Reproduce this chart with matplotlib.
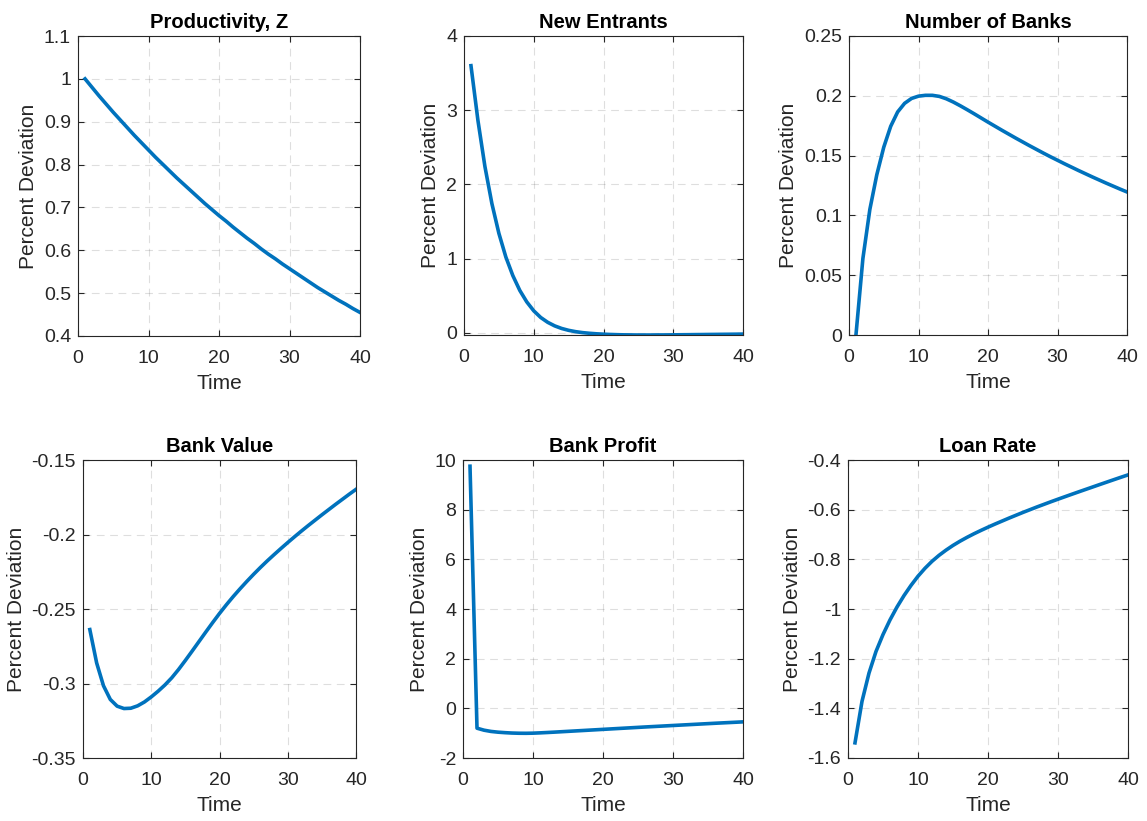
import numpy as np
import matplotlib
matplotlib.use("Agg")
import matplotlib.pyplot as plt
from matplotlib.ticker import FuncFormatter

plt.rcParams['font.family'] = ['Liberation Sans', 'DejaVu Sans']
plt.rcParams['axes.unicode_minus'] = False

time = np.arange(1, 41)

productivity = [1.000, 0.980, 0.960, 0.941, 0.922, 0.904, 0.886, 0.868, 0.851, 0.834,
                0.817, 0.801, 0.785, 0.769, 0.754, 0.739, 0.724, 0.709, 0.695, 0.681,
                0.668, 0.654, 0.641, 0.628, 0.616, 0.603, 0.591, 0.580, 0.568, 0.557,
                0.546, 0.535, 0.524, 0.513, 0.503, 0.493, 0.483, 0.474, 0.464, 0.455]

new_entrants = [3.600, 2.860, 2.240, 1.740, 1.340, 1.020, 0.770, 0.570, 0.415, 0.295,
                0.205, 0.140, 0.092, 0.057, 0.032, 0.014, 0.001, -0.008, -0.015, -0.020,
                -0.024, -0.027, -0.029, -0.030, -0.031, -0.031, -0.031, -0.030, -0.030, -0.029,
                -0.028, -0.027, -0.026, -0.025, -0.024, -0.023, -0.022, -0.021, -0.020, -0.019]

num_banks = [0.000, 0.064, 0.105, 0.134, 0.157, 0.1745, 0.1865, 0.1937, 0.1978, 0.1997,
             0.2004, 0.2004, 0.1995, 0.1975, 0.1948, 0.1917, 0.1884, 0.1850, 0.1815, 0.1780,
             0.1746, 0.1712, 0.1679, 0.1646, 0.1614, 0.1582, 0.1551, 0.1520, 0.1490, 0.1461,
             0.1432, 0.1404, 0.1376, 0.1349, 0.1322, 0.1296, 0.1270, 0.1245, 0.1220, 0.1196]

bank_value = [-0.2638, -0.2862, -0.3015, -0.3107, -0.3152, -0.3168, -0.3166, -0.3150, -0.3124, -0.3090,
              -0.3052, -0.3010, -0.2962, -0.2906, -0.2845, -0.2782, -0.2718, -0.2654, -0.2591, -0.2530,
              -0.2472, -0.2417, -0.2365, -0.2315, -0.2267, -0.2221, -0.2177, -0.2135, -0.2094, -0.2054,
              -0.2015, -0.1977, -0.1940, -0.1904, -0.1868, -0.1833, -0.1798, -0.1764, -0.1730, -0.1697]

bank_profit = [9.75, -0.80, -0.88, -0.93, -0.96, -0.98, -0.995, -1.003, -1.005, -1.000,
               -0.988, -0.974, -0.959, -0.943, -0.927, -0.911, -0.895, -0.879, -0.863, -0.847,
               -0.831, -0.815, -0.799, -0.783, -0.767, -0.751, -0.736, -0.721, -0.706, -0.691,
               -0.676, -0.661, -0.646, -0.631, -0.616, -0.601, -0.587, -0.573, -0.559, -0.545]

loan_rate = [-1.539, -1.372, -1.258, -1.171, -1.103, -1.044, -0.992, -0.946, -0.905, -0.868,
             -0.836, -0.808, -0.784, -0.763, -0.744, -0.727, -0.7115, -0.697, -0.6835, -0.6705,
             -0.658, -0.646, -0.634, -0.6225, -0.611, -0.600, -0.589, -0.5785, -0.568, -0.5578,
             -0.5477, -0.5377, -0.5278, -0.518, -0.5082, -0.4984, -0.4887, -0.479, -0.4694, -0.460]

titles = ['Productivity, Z', 'New Entrants', 'Number of Banks',
          'Bank Value', 'Bank Profit', 'Loan Rate']
series = [productivity, new_entrants, num_banks, bank_value, bank_profit, loan_rate]
ylims = [(0.4, 1.1), (min(new_entrants), 4), (0, 0.25),
         (-0.35, -0.15), (-2, 10), (-1.6, -0.4)]
yticks = [np.arange(0.4, 1.11, 0.1), np.arange(0, 4.1, 1), np.arange(0, 0.26, 0.05),
          np.arange(-0.35, -0.149, 0.05), np.arange(-2, 10.1, 2), np.arange(-1.6, -0.39, 0.2)]

W, H = 1147, 821
# axes boxes in pixels: left, right, top, bottom
boxes = [(78, 360, 36, 336), (464, 743, 36, 335), (849, 1127, 36, 335),
         (83, 356, 460, 758), (463, 743, 460, 758), (848, 1128, 460, 758)]

fig = plt.figure(figsize=(W / 100, H / 100), dpi=100)
dark = '#262626'
blue = '#0072BD'

for i in range(6):
    l, r, t, b = boxes[i]
    ax = fig.add_axes([l / W, 1 - b / H, (r - l) / W, (b - t) / H])
    ax.plot(time, series[i], color=blue, lw=2.6)
    ax.set_xlim(0, 40)
    ax.set_ylim(*ylims[i])
    ax.set_xticks([0, 10, 20, 30, 40])
    ax.set_yticks(yticks[i])
    ax.yaxis.set_major_formatter(FuncFormatter(lambda v, p: '%g' % round(v, 4)))
    ax.grid(True, color='#262626', alpha=0.15, lw=0.8, linestyle=(0, (7, 5)))
    ax.tick_params(direction='in', top=True, right=True, labelsize=14,
                   colors=dark, length=4, width=0.8)
    ax.tick_params(axis='x', pad=10)
    ax.tick_params(axis='y', pad=5)
    for s in ax.spines.values():
        s.set_color(dark)
        s.set_linewidth(0.8)
    ax.set_title(titles[i], fontsize=14.5, fontweight='bold', color='black', pad=6)
    ax.set_xlabel('Time', fontsize=15, color=dark, labelpad=5)
    ax.set_ylabel('Percent Deviation', fontsize=15, color=dark, labelpad=4)

fig.savefig('out.png', dpi=100, facecolor='white')
